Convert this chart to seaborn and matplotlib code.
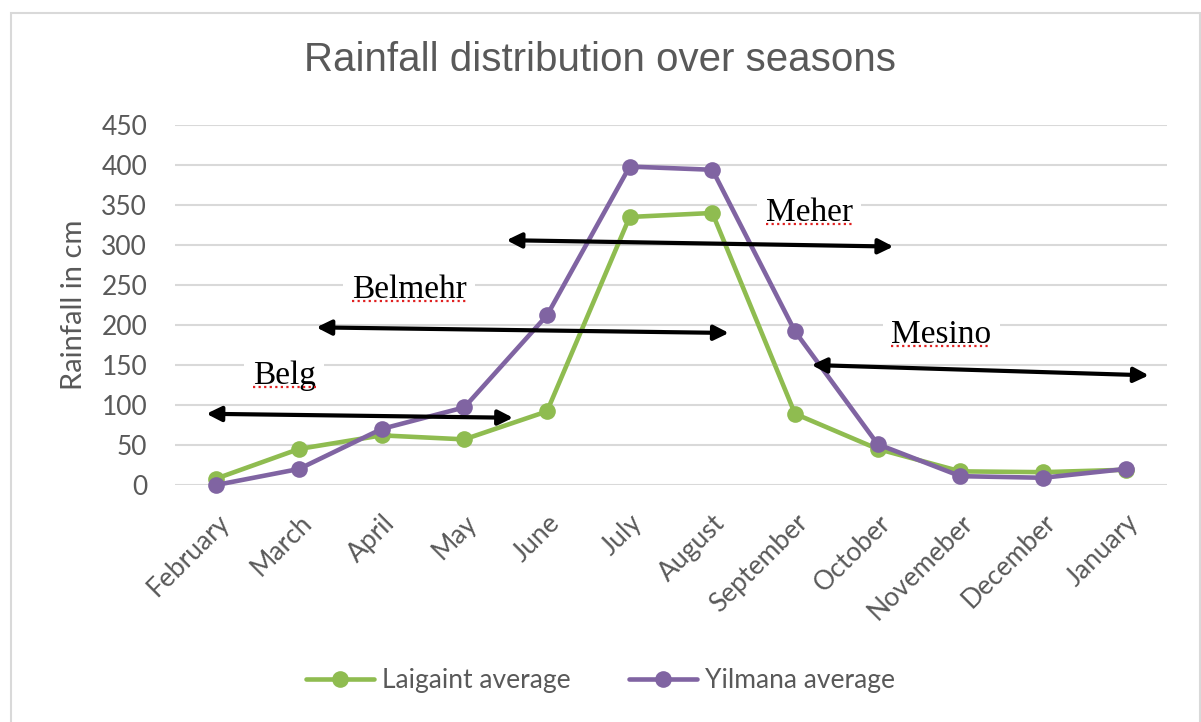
import pandas as pd
import matplotlib
matplotlib.use('Agg')
import matplotlib.pyplot as plt
from matplotlib.patches import Rectangle
from matplotlib.lines import Line2D
import seaborn as sns

# monthly averages
months = ['February', 'March', 'April', 'May', 'June', 'July', 'August',
          'September', 'October', 'Novemeber', 'December', 'January']
laigaint = [8, 45, 62, 57, 92, 335, 340, 89, 45, 17, 16, 19]
yilmana = [0, 20, 70, 97, 212, 398, 394, 192, 51, 11, 9, 20]
series_names = ['Laigaint average', 'Yilmana average']

# season spans (start month idx, start value, end month idx, end value) and labels
seasons = ['Belg', 'Belmehr', 'Meher', 'Mesino']
season_starts = [(-0.12, 89), (1.21, 197), (3.51, 306), (7.2, 150)]
season_ends = [(3.59, 84), (6.2, 190), (8.19, 298), (11.28, 137)]
label_pos = [(0.82, 136), (2.33, 244), (7.17, 340), (8.77, 188)]

df = pd.DataFrame({
    'Month': months * 2,
    'Rainfall': laigaint + yilmana,
    'Series': [series_names[0]] * len(months) + [series_names[1]] * len(months),
})

sns.set_style('white')
plt.rcParams['font.family'] = ['Lato', 'DejaVu Sans']

fig = plt.figure(figsize=(12.01, 7.22), dpi=100)
ax = fig.add_axes([0.1457, 0.3283, 0.826, 0.4986])

palette = {series_names[0]: '#8fbc50', series_names[1]: '#8064a2'}
sns.lineplot(data=df, x='Month', y='Rainfall', hue='Series', palette=palette,
             marker='o', markersize=12, markeredgewidth=0, linewidth=3.3,
             sort=False, ax=ax, legend=True, clip_on=False)

ax.set_xlim(-0.5, 11.5)
ax.set_ylim(0, 450)
ax.set_yticks(range(0, 451, 50))
ax.grid(axis='y', color='#d9d9d9', linewidth=1.5)
ax.set_axisbelow(True)
for s in ax.spines.values():
    s.set_visible(False)
ax.tick_params(length=0, labelsize=19, labelcolor='#595959')
ax.tick_params(axis='y', pad=20)
ax.tick_params(axis='x', pad=18)
plt.setp(ax.get_xticklabels(), rotation=45, ha='right', rotation_mode='anchor')
ax.set_xlabel('')
ax.set_ylabel('Rainfall in cm', fontsize=21, color='#595959', labelpad=10)

fig.suptitle('Rainfall distribution over seasons', fontsize=29, color='#595959',
             family='Liberation Sans', y=0.917, va='center')

# season arrows and names
names = []
for name, start, end, pos in zip(seasons, season_starts, season_ends, label_pos):
    ax.annotate('', xy=end, xytext=start,
                arrowprops=dict(arrowstyle='<|-|>', color='black', lw=3,
                                mutation_scale=22, shrinkA=0, shrinkB=0),
                annotation_clip=False)
    t = ax.text(pos[0], pos[1], name, family='Liberation Serif', fontsize=24,
                color='black', ha='center', va='center',
                bbox=dict(facecolor='white', edgecolor='none', pad=6))
    names.append(t)

handles, labels = ax.get_legend_handles_labels()
ax.legend_.remove()
fig.legend(handles, labels, loc='center', bbox_to_anchor=(0.5, 0.057), ncol=2,
           frameon=False, fontsize=19, labelcolor='#595959', handlelength=2.6,
           columnspacing=2.2, handletextpad=0.3)

# spell-check squiggles under the season names
fig.canvas.draw()
renderer = fig.canvas.get_renderer()
inv = fig.transFigure.inverted()
for t in names:
    bb = t.get_window_extent(renderer)
    (x0, y0), (x1, _) = inv.transform([(bb.x0, bb.y0 + 4), (bb.x1, bb.y0 + 4)])
    fig.add_artist(Line2D([x0, x1], [y0, y0], color='#e02020', lw=1.6,
                          linestyle=(0, (1, 1.5))))

fig.add_artist(Rectangle((0.009, -0.01), 0.99, 0.992, transform=fig.transFigure,
                         fill=False, edgecolor='#d9d9d9', linewidth=1.5))

fig.savefig('out.png', dpi=100)
